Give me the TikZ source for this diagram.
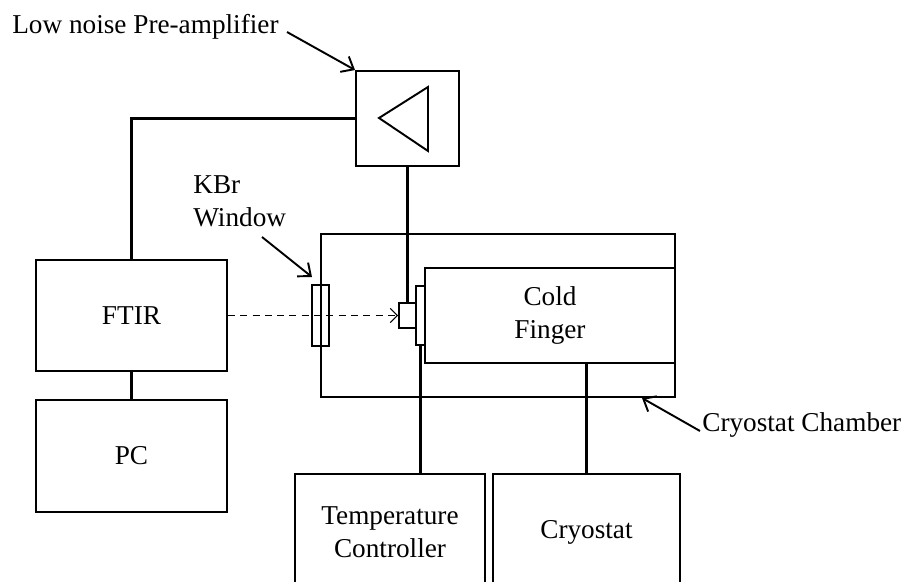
\documentclass[tikz,border=0pt]{standalone}
\usepackage{fontspec}
\setmainfont{Liberation Serif}
\usetikzlibrary{arrows.meta}
\begin{document}
\begin{tikzpicture}[x=0.02cm,y=-0.02cm,
    box/.style={draw,line width=1.1pt,inner sep=0pt,align=center,font=\fontsize{15.5}{18.6}\selectfont},
    wire/.style={line width=1.7pt},
    pointer/.style={line width=1.1pt,-{Straight Barb[length=6pt,width=10pt]}},
    lbl/.style={inner sep=0pt,align=left,font=\fontsize{15.5}{18.6}\selectfont}]
    \useasboundingbox (0,0) rectangle (905,581);
    \clip (0,0) rectangle (905,581);
    % boxes
    \node[box,minimum width=3.82cm,minimum height=2.22cm] (ftir) at (131.5,315.5) {FTIR};
    \node[box,minimum width=3.82cm,minimum height=2.24cm] (pc) at (131.5,456) {PC};
    \node[box,minimum width=2.06cm,minimum height=1.9cm] (amp) at (407.5,118.5) {};
    \draw[line width=1.1pt] (379,118) -- (428,87) -- (428,151) -- cycle;
    \node[box,minimum width=7.08cm,minimum height=3.26cm] (chamber) at (498,315.5) {};
    \node[box,minimum width=5cm,minimum height=1.9cm] (finger) at (550,315.5) {Cold\\Finger};
    \node[box,minimum width=0.34cm,minimum height=1.22cm] (window) at (320.5,315.5) {};
    \node[box,minimum width=0.18cm,minimum height=1.18cm] (plate) at (420.5,315.5) {};
    \node[box,minimum width=0.34cm,minimum height=0.5cm] (sensor) at (407.5,315.5) {};
    \node[box,minimum width=3.8cm,minimum height=2.32cm] (tc) at (390,532) {Temperature\\Controller};
    \node[box,minimum width=3.74cm,minimum height=2.32cm] (cryo) at (586.5,532) {Cryostat};
    % wires
    \draw[wire] (amp.west) -| (ftir.north);
    \draw[wire] (ftir.south) -- (pc.north);
    \draw[wire] (amp.south) -- (sensor.north);
    \draw[wire] (plate.south) -- (plate.south |- tc.north);
    \draw[wire] (cryo.north |- finger.south) -- (cryo.north);
    % IR beam
    \draw[line width=0.6pt,dash pattern=on 4pt off 3pt,-{Straight Barb[length=4pt,width=8pt]}] (ftir.east) -- (sensor.west);
    % labels
    \node[lbl,anchor=west] (amplbl) at (12,27) {Low noise Pre-amplifier};
    \draw[pointer] (287,32) -- (amp.north west);
    \node[lbl,anchor=west] (kbrlbl) at (193,201) {KBr\\Window};
    \coordinate (kbrtip) at (312,277);
    \draw[pointer] (262,237) -- (kbrtip);
    \node[lbl,anchor=west] (chlbl) at (702,425) {Cryostat Chamber};
    \coordinate (chtip) at (642,398);
    \draw[pointer] (chlbl.west) ++(-2,6) -- (chtip);
\end{tikzpicture}
\end{document}
